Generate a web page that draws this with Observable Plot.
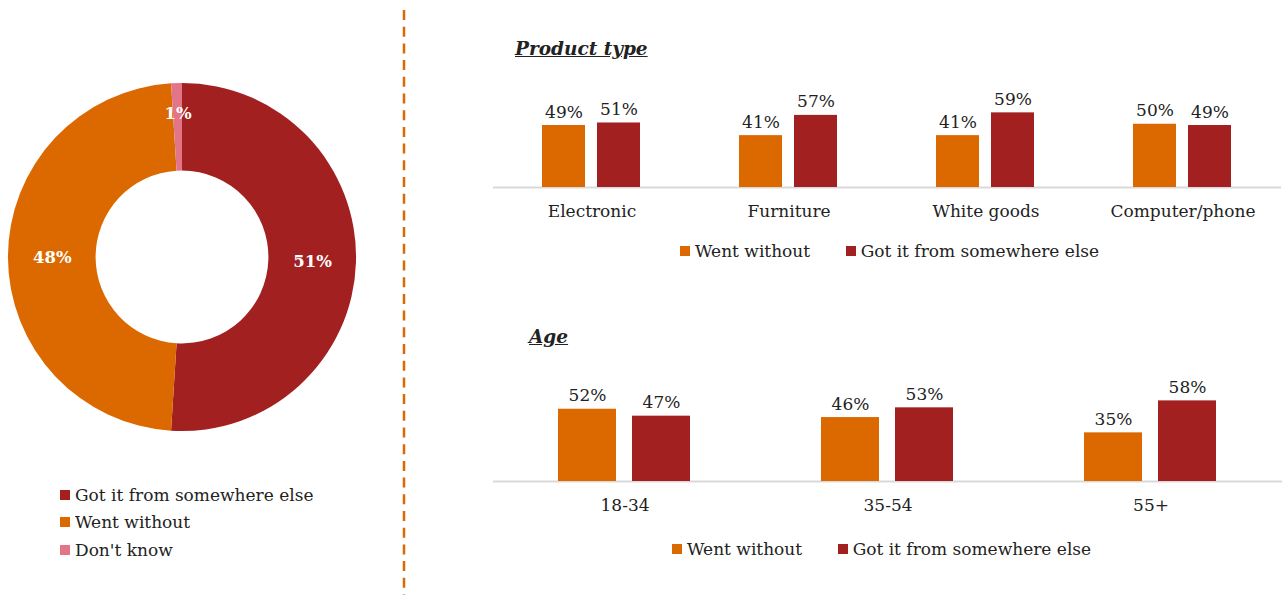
<!DOCTYPE html>
<html>
<head>
<meta charset="utf-8">
<script src="https://cdn.jsdelivr.net/npm/d3@7"></script>
<script src="https://cdn.jsdelivr.net/npm/@observablehq/plot@0.6"></script>
<style>
  body { margin: 0; background: #fff; }
  #root { position: relative; width: 1282px; height: 595px; overflow: hidden; font-family: "DejaVu Serif", serif; color: #222; }
  .abs { position: absolute; }
  .title { font-weight: bold; font-style: italic; text-decoration: underline; font-size: 18.5px; line-height: 1; z-index: 2; white-space: nowrap; }
  .dleg-swatch { padding-bottom: 0 !important; height: 27.5px; }
  .dleg-swatch > svg { margin-right: 5px !important; }
  .dleg-swatches, .bleg-swatches { margin-bottom: 0 !important; }
  .bleg-swatches-wrap { min-height: 0 !important; flex-wrap: nowrap !important; }
  .bleg-swatch { margin-right: 35.5px !important; white-space: nowrap; }
  .bleg-swatch > svg { margin-right: 5px !important; }
</style>
</head>
<body>
<div id="root"></div>
<script>
// ---- Data ----
const donutCategories = ["Got it from somewhere else", "Went without", "Don't know"];
const donutValues = [51, 48, 1];

const seriesNames = ["Went without", "Got it from somewhere else"];

const productCategories = ["Electronic", "Furniture", "White goods", "Computer/phone"];
const productWent = [49, 41, 41, 50];
const productGot = [51, 57, 59, 49];

const ageCategories = ["18-34", "35-54", "55+"];
const ageWent = [52, 46, 35];
const ageGot = [47, 53, 58];

// ---- Styles ----
const ORANGE = "#DC6900";
const RED = "#A32020";
const PINK = "#E27588";
const FONT = '"DejaVu Serif", serif';
const TEXT = "#222";
const FS = "17px";

const root = document.getElementById("root");
function place(node, left, top) {
  const wrap = document.createElement("div");
  wrap.className = "abs";
  wrap.style.left = left + "px";
  wrap.style.top = top + "px";
  wrap.appendChild(node);
  root.appendChild(wrap);
  return wrap;
}

// ---- Donut ----
const donutColor = {domain: donutCategories, range: [RED, ORANGE, PINK]};
const donut = donutCategories.map((c, i) => ({category: c, value: donutValues[i]}));
const pieArcs = d3.pie().sort(null).value(d => d.value)(donut);
const OUTER = 0.967, INNER = 0.48;
const colorOf = d3.scaleOrdinal(donutColor.domain, donutColor.range);
const labelRows = pieArcs.map(a => {
  const r = a.data.value < 5 ? 0.8 : (OUTER + INNER) / 2;
  const ang = (a.startAngle + a.endAngle) / 2;
  return {x: r * Math.sin(ang), y: r * Math.cos(ang), label: a.data.value + "%"};
});

function donutMark(index, scales) {
  const cx = scales.x(0), cy = scales.y(0);
  const unit = scales.x(1) - scales.x(0);
  const arc = d3.arc().innerRadius(INNER * unit).outerRadius(OUTER * unit);
  const g = d3.create("svg:g").attr("transform", `translate(${cx},${cy})`);
  g.selectAll("path").data(pieArcs).join("path")
    .attr("d", arc)
    .attr("fill", d => colorOf(d.data.category));
  return g.node();
}

const donutPlot = Plot.plot({
  width: 360, height: 360,
  margin: 0,
  x: {domain: [-1, 1], axis: null},
  y: {domain: [-1, 1], axis: null},
  style: {fontFamily: FONT, background: "transparent", overflow: "visible"},
  marks: [
    donutMark,
    Plot.text(labelRows, {x: "x", y: "y", text: "label", fill: "white", fontWeight: "bold", fontSize: 16.5})
  ]
});
place(donutPlot, 2, 77);

const donutLegend = Plot.legend({
  color: donutColor,
  legend: "swatches",
  columns: 1,
  swatchSize: 10,
  className: "dleg",
  width: 320,
  style: {fontFamily: FONT, fontSize: FS, color: TEXT}
});
place(donutLegend, 60, 481);

// ---- Divider ----
const divider = d3.create("svg").attr("width", 10).attr("height", 595);
divider.append("line").attr("x1", 5).attr("x2", 5).attr("y1", 10).attr("y2", 595)
  .attr("stroke", ORANGE).attr("stroke-width", 2.5).attr("stroke-dasharray", "10 6.7");
place(divider.node(), 399, 0);

// ---- Bar charts ----
function barChart({categories, went, got, height, marginTop, marginBottom, paddingInner, paddingOuter}) {
  const rows = categories.flatMap((c, i) => [
    {category: c, series: seriesNames[0], value: went[i]},
    {category: c, series: seriesNames[1], value: got[i]}
  ]);
  return Plot.plot({
    width: 790, height,
    marginTop, marginBottom, marginLeft: 0, marginRight: 0,
    fx: {domain: categories, padding: 0, axis: "bottom", label: null, tickSize: 0, tickPadding: 17.5},
    x: {domain: seriesNames, axis: null, paddingInner, paddingOuter},
    y: {domain: [0, 100], axis: null},
    color: {domain: seriesNames, range: [ORANGE, RED]},
    style: {fontFamily: FONT, fontSize: FS, color: TEXT, background: "transparent", overflow: "visible"},
    marks: [
      Plot.ruleY([0], {stroke: "#d9d9d9", strokeWidth: 2}),
      Plot.barY(rows, {fx: "category", x: "series", y: "value", fill: "series"}),
      Plot.text(rows, {fx: "category", x: "series", y: "value", text: d => d.value + "%", lineAnchor: "bottom", dy: -8, fill: TEXT})
    ]
  });
}

function barLegend() {
  return Plot.legend({
    color: {domain: seriesNames, range: [ORANGE, RED]},
    legend: "swatches",
    swatchSize: 10,
    className: "bleg",
    style: {fontFamily: FONT, fontSize: FS, color: TEXT}
  });
}

const productPlot = barChart({
  categories: productCategories, went: productWent, got: productGot,
  height: 170, marginTop: 5.5, marginBottom: 38,
  paddingInner: 12 / 56, paddingOuter: 0.87
});
place(productPlot, 492, 55);

const agePlot = barChart({
  categories: ageCategories, went: ageWent, got: ageGot,
  height: 185, marginTop: 7, marginBottom: 39,
  paddingInner: 16 / 75, paddingOuter: 0.862
});
place(agePlot, 492, 335);

place(barLegend(), 680, 241);
place(barLegend(), 672, 539);

// ---- Titles ----
function title(text, left, top) {
  const d = document.createElement("div");
  d.className = "abs title";
  d.style.left = left + "px";
  d.style.top = top + "px";
  d.textContent = text;
  root.appendChild(d);
}
title("Product type", 515, 40);
title("Age", 529, 328);
</script>
</body>
</html>
